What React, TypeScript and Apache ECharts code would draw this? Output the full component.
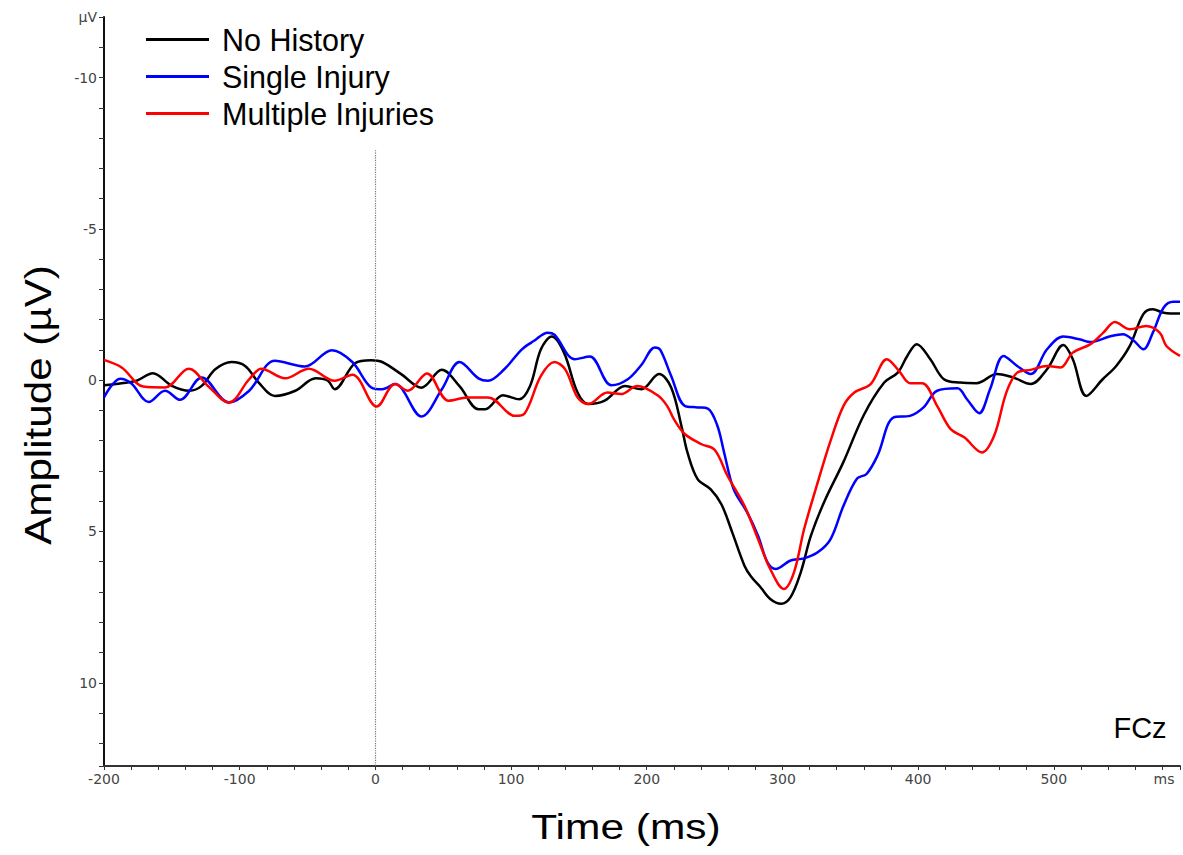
import React, { useEffect, useRef } from "react";
import * as echarts from "echarts";

// Time (ms) / amplitude (µV) pairs
const noHistory: [number, number][] = [
  [-200, 0.17], [-187, 0.1], [-176, 0.02], [-164, -0.23], [-150, 0.19], [-137, 0.35], [-128, 0.19],
  [-118, -0.36], [-106, -0.6], [-96, -0.47], [-86, 0.08], [-74, 0.52], [-59, 0.35], [-44, -0.06],
  [-35, 0.02], [-30, 0.3], [-15, -0.56], [-3, -0.66], [5, -0.6], [19, -0.2], [34, 0.25], [49, -0.34],
  [62, 0.2], [76, 0.96], [81, 0.96], [94, 0.5], [106, 0.63], [114, 0.19], [122, -1.02], [130, -1.44],
  [139, -0.91], [149, 0.41], [157, 0.79], [169, 0.68], [184, 0.19], [196, 0.3], [209, -0.2],
  [218, 0.24], [226, 1.6], [230, 2.39], [237.5, 3.27], [247, 3.6], [255, 4.1], [263, 5.03],
  [272, 6.13], [277, 6.5], [284, 6.85], [291, 7.23], [299, 7.39], [306, 7.17], [313.5, 6.35],
  [321, 5.14], [331, 4.0], [345, 2.7], [360, 1.15], [375, 0.08], [385, -0.25], [392, -0.8],
  [399, -1.19], [409, -0.69], [419, -0.03], [431, 0.08], [443, 0.1], [458, -0.2], [470, -0.09],
  [483, 0.13], [495, -0.36], [507, -1.16], [514, -0.69], [524, 0.52], [536, -0.03], [546, -0.47],
  [556, -1.13], [566, -2.18], [573, -2.34], [581, -2.23], [593, -2.2],
];

const singleInjury: [number, number][] = [
  [-200, 0.57], [-188, -0.05], [-180, 0.1], [-167, 0.72], [-155, 0.35], [-144, 0.65], [-128, -0.09],
  [-108, 0.74], [-93, 0.35], [-74, -0.64], [-52, -0.45], [-32, -0.99], [-17, -0.6], [-3, 0.24],
  [5, 0.3], [14.5, 0.13], [34, 1.2], [49, 0.3], [62, -0.6], [76, -0.06], [83, 0.02], [95, -0.36],
  [108, -1.02], [117, -1.3], [127, -1.57], [132, -1.5], [147, -0.69], [158, -0.78], [174, 0.17],
  [186, -0.03], [196, -0.5], [206, -1.08], [210, -1.0], [218, -0.14], [228, 0.85], [237.5, 0.9],
  [245, 0.94], [252, 1.5], [257, 2.39], [264, 3.6], [274, 4.37], [282, 5.14], [289, 6.02],
  [295, 6.24], [306, 5.96], [316, 5.89], [326, 5.69], [335.5, 5.25], [345, 4.15], [355, 3.25],
  [362, 3.1], [370, 2.5], [382, 1.23], [394, 1.18], [404, 0.9], [414, 0.35], [429, 0.27],
  [436, 0.63], [445, 1.09], [453, 0.3], [463, -0.8], [473, -0.47], [483, -0.2], [495, -1.02],
  [507, -1.44], [519, -1.35], [527, -1.26], [541, -1.44], [551, -1.52], [559, -1.3], [566, -1.02],
  [573, -1.57], [581, -2.4], [588, -2.59], [593, -2.59],
];

const multipleInjuries: [number, number][] = [
  [-200, -0.67], [-187, -0.42], [-171, 0.21], [-155, 0.24], [-137.5, -0.38], [-123, 0.21],
  [-108, 0.74], [-93, -0.03], [-84, -0.38], [-66.5, -0.06], [-49, -0.38], [-30, 0.02], [-17, -0.18],
  [1, 0.87], [14.5, 0.13], [24, 0.35], [38, -0.22], [54, 0.68], [68, 0.57], [83, 0.57], [103, 1.18],
  [110, 1.1], [122, -0.14], [132, -0.6], [140, -0.35], [149, 0.57], [157, 0.79], [171, 0.41],
  [181, 0.46], [193, 0.19], [208, 0.5], [215, 0.85], [220, 1.29], [228, 1.78], [240, 2.11],
  [250, 2.3], [259.5, 3.16], [272, 4.15], [282, 5.25], [291, 6.24], [301, 6.9], [308.5, 6.35],
  [316, 4.92], [326, 3.38], [335.5, 2.0], [345, 0.85], [353, 0.41], [365, 0.13], [377, -0.69],
  [386, -0.3], [394, 0.1], [403, 0.1], [414, 0.85], [424, 1.62], [434, 1.89], [447, 2.39],
  [456, 1.84], [465, 0.41], [473, -0.25], [483, -0.34], [495, -0.47], [505, -0.42], [514, -0.91],
  [527, -1.19], [536.5, -1.57], [545, -1.92], [556, -1.68], [568, -1.79], [578, -1.57],
  [583, -1.13], [593, -0.8],
];

const seriesNames = ["No History", "Single Injury", "Multiple Injuries"];
const seriesColors = ["#000000", "#0000ff", "#ff0000"];
const xMin = -200;
const xMax = 593;
const yMin = -12;
const yMax = 12.75;
const stimulusLine: [number, number][] = [[0, -7.6], [0, 12.75]];

export default function App() {
  const ref = useRef<HTMLDivElement>(null);
  useEffect(() => {
    if (!ref.current) return;
    const chart = echarts.init(ref.current, null, { renderer: "svg" });
    const datasets = [noHistory, singleInjury, multipleInjuries];
    const tickFont = { fontFamily: "DejaVu Sans", fontSize: 14, color: "#444" };
    chart.setOption({
      animation: false,
      backgroundColor: "#ffffff",
      grid: { left: 104, right: 0, top: 17, bottom: 89, containLabel: false },
      legend: {
        orient: "vertical",
        left: 146,
        top: 24,
        padding: 0,
        itemGap: 6,
        itemWidth: 63,
        itemHeight: 3,
        icon: "rect",
        data: seriesNames,
        textStyle: {
          fontFamily: "Liberation Sans, Arial",
          fontSize: 30.5,
          color: "#000",
          padding: [0, 0, 0, 8],
        },
      },
      xAxis: {
        type: "value",
        min: xMin,
        max: xMax,
        interval: 20,
        splitLine: { show: false },
        axisLine: { show: true, onZero: false, lineStyle: { color: "#333", width: 2 } },
        axisTick: { show: true, length: 4, lineStyle: { color: "#333", width: 1 } },
        axisLabel: {
          ...tickFont,
          margin: 6,
          formatter: (v: number) => (v % 100 === 0 && v <= 500 ? String(v) : ""),
        },
      },
      yAxis: {
        type: "value",
        inverse: true,
        min: yMin,
        max: yMax,
        interval: 1,
        splitLine: { show: false },
        axisLine: { show: true, onZero: false, lineStyle: { color: "#111", width: 2 } },
        axisTick: { show: true, length: 5, lineStyle: { color: "#333", width: 1 } },
        axisLabel: {
          ...tickFont,
          margin: 7,
          formatter: (v: number) => {
            if (v === yMin) return "µV";
            if (Math.abs(v % 5) < 1e-9) return String(v);
            return "";
          },
        },
      },
      series: datasets.map((d, i) => ({
        name: seriesNames[i],
        type: "line",
        data: d,
        smooth: 0.35,
        showSymbol: false,
        symbol: "none",
        lineStyle: { color: seriesColors[i], width: 2.5 },
        itemStyle: { color: seriesColors[i] },
        z: 3 + i,
        markLine:
          i === 0
            ? {
                silent: true,
                symbol: ["none", "none"],
                label: { show: false },
                lineStyle: { type: "dotted", color: "#777", width: 1.2 },
                data: [[{ coord: stimulusLine[0] }, { coord: stimulusLine[1] }]],
              }
            : undefined,
      })),
      graphic: [
        {
          type: "text",
          x: 38,
          y: 405,
          rotation: Math.PI / 2,
          scaleX: 1.14,
          style: {
            text: "Amplitude (µV)",
            font: '37px "Liberation Sans", Arial, sans-serif',
            fill: "#000",
            textAlign: "center",
            textVerticalAlign: "middle",
          },
        },
        {
          type: "text",
          x: 626,
          y: 826,
          scaleX: 1.18,
          style: {
            text: "Time (ms)",
            font: '36px "Liberation Sans", Arial, sans-serif',
            fill: "#000",
            textAlign: "center",
            textVerticalAlign: "middle",
          },
        },
        {
          type: "text",
          x: 1140,
          y: 728,
          style: {
            text: "FCz",
            font: '29px "Liberation Sans", Arial, sans-serif',
            fill: "#000",
            textAlign: "center",
            textVerticalAlign: "middle",
          },
        },
        {
          type: "text",
          x: 1164,
          y: 779,
          style: {
            text: "ms",
            font: '14px "DejaVu Sans", sans-serif',
            fill: "#444",
            textAlign: "center",
            textVerticalAlign: "middle",
          },
        },
      ],
    });
    return () => chart.dispose();
  }, []);
  return (
    <div
      ref={ref}
      style={{ position: "fixed", left: 0, top: 0, width: 1183, height: 855, background: "#fff" }}
    />
  );
}
